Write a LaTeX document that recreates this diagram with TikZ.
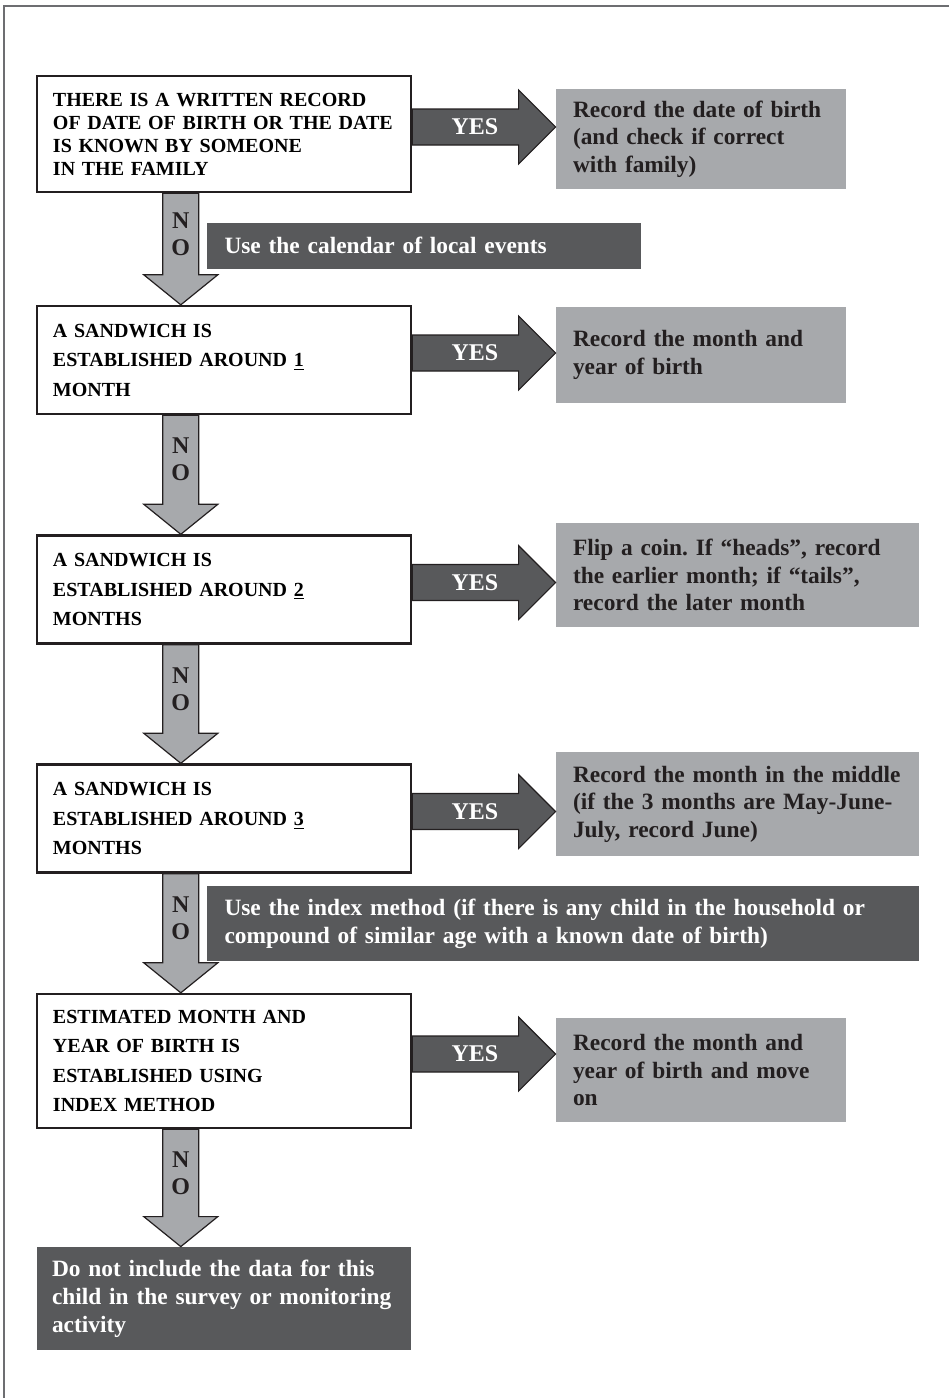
\documentclass[tikz,border=0pt]{standalone}
\usepackage{fontspec}
\setmainfont{Liberation Serif}
\usetikzlibrary{calc}
\frenchspacing
\hyphenpenalty=10000
\exhyphenpenalty=10000

\definecolor{darkbox}{HTML}{58595B}
\definecolor{lightbox}{HTML}{A7A9AC}
\definecolor{inkline}{HTML}{231F20}
\definecolor{framegray}{HTML}{6D6E71}

\newcommand\yesarrow[2]{%
  \draw[yesarr] let \p1=(#1.east), \p2=(#2.west) in
    (\x1,\y1+12.5pt) -- (\x2-18.5pt,\y1+12.5pt) -- (\x2-18.5pt,\y1+22pt)
    -- (\x2,\y1+3.5pt) -- (\x2-18.5pt,\y1-15pt) -- (\x2-18.5pt,\y1-5.5pt)
    -- (\x1,\y1-5.5pt) -- cycle
    node[yeslabel] at ({(\x1+\x2)/2-4.5pt},\y1+3.5pt) {YES};}
\newcommand\noarrow[2]{%
  \draw[noarr] let \p1=(#1.south west), \p2=(#2.north) in
    (\x1+63.5pt,\y1) -- (\x1+63.5pt,\y2+15pt) -- (\x1+54pt,\y2+15pt)
    -- (\x1+72.5pt,\y2) -- (\x1+91pt,\y2+15pt) -- (\x1+81.5pt,\y2+15pt)
    -- (\x1+81.5pt,\y1) -- cycle
    node[nolabel] at (\x1+72.5pt,{(\y1+\y2+15pt)/2}) {N\\O};}

\begin{document}
\begin{tikzpicture}[
        x=0.5pt, y=-0.5pt,
        question/.style={draw=inkline, line width=1.2pt, fill=white, text width=171pt,
            inner xsep=8pt, align=left, font=\bfseries\fontsize{10}{14.75}\selectfont},
        answer/.style={fill=lightbox, text=inkline, text width=128pt, inner xsep=8.5pt,
            align=left, font=\bfseries\fontsize{11.7}{13.75}\selectfont},
        note/.style={fill=darkbox, text=white, inner xsep=9pt, align=left,
            font=\bfseries\fontsize{11.7}{14}\selectfont},
        yesarr/.style={fill=darkbox, draw=inkline, line width=0.6pt},
        noarr/.style={fill=lightbox, draw=inkline, line width=0.6pt},
        yeslabel/.style={text=white, font=\bfseries\fontsize{12}{14}\selectfont},
        nolabel/.style={text=inkline, align=center, inner sep=0pt,
            font=\bfseries\fontsize{12}{13.5}\selectfont},
        pageframe/.style={draw=framegray, line width=1pt},
    ]
    \useasboundingbox (0,0) rectangle (949,1398);
    \draw[pageframe] (4,1398) -- (4,6) -- (949,6);

    \node[question, minimum height=58pt, font=\bfseries\fontsize{10}{11.5}\selectfont] (b1) at (224,134)
        {THERE IS A WRITTEN RECORD\\OF DATE OF BIRTH OR THE DATE\\IS KNOWN BY SOMEONE\\IN THE FAMILY};
    \node[question, minimum height=54pt] (b2) at (224,360)
        {A SANDWICH IS\\ESTABLISHED AROUND \underline{1}\\MONTH};
    \node[question, minimum height=54pt] (b3) at (224,589.5)
        {A SANDWICH IS\\ESTABLISHED AROUND \underline{2}\\MONTHS};
    \node[question, minimum height=54pt] (b4) at (224,818.5)
        {A SANDWICH IS\\ESTABLISHED AROUND \underline{3}\\MONTHS};
    \node[question, minimum height=67pt] (b5) at (224,1061)
        {ESTIMATED MONTH AND\\YEAR OF BIRTH IS\\ESTABLISHED USING\\INDEX METHOD};
    \node[note, text width=172pt, inner xsep=7.5pt, minimum height=51.5pt] (stop) at (224,1298.5)
        {Do not include the data for this\\child in the survey or monitoring\\activity};

    \node[answer, minimum height=50pt] (r1) at (701,139)
        {Record the date of birth\\(and check if correct\\with family)};
    \node[answer, minimum height=48pt] (r2) at (701,355)
        {Record the month and\\year of birth};
    \node[answer, text width=164.5pt, minimum height=52pt] (r3) at (737.5,575)
        {Flip a coin. If “heads”, record\\the earlier month; if “tails”,\\record the later month};
    \node[answer, text width=164.5pt, minimum height=52pt] (r4) at (737.5,804)
        {Record the month in the middle\\(if the 3 months are May-June-\\July, record June)};
    \node[answer, minimum height=52pt] (r5) at (701,1070)
        {Record the month and\\year of birth and move\\on};

    \node[note, text width=199pt, minimum height=23pt] (cal) at (423.5,245.5)
        {Use the calendar of local events};
    \node[note, text width=338pt, minimum height=37.5pt] (idx) at (562.5,923.5)
        {Use the index method (if there is any child in the household or\\compound of similar age with a known date of birth)};

    \yesarrow{b1}{r1}
    \yesarrow{b2}{r2}
    \yesarrow{b3}{r3}
    \yesarrow{b4}{r4}
    \yesarrow{b5}{r5}
    \noarrow{b1}{b2}
    \noarrow{b2}{b3}
    \noarrow{b3}{b4}
    \noarrow{b4}{b5}
    \noarrow{b5}{stop}
\end{tikzpicture}
\end{document}
